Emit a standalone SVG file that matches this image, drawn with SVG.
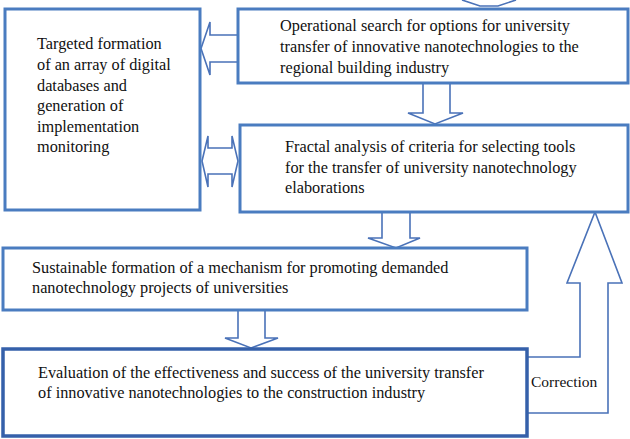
<svg xmlns="http://www.w3.org/2000/svg" width="630" height="439" viewBox="0 0 630 439">
<style>
.box{fill:#fff;stroke:#4a7cc0;stroke-width:3}
.box4{fill:#fff;stroke:#3560aa;stroke-width:3.5}
.arr{fill:#fff;stroke:#4a72b8;stroke-width:1.6;stroke-linejoin:miter}
</style>
<rect width="630" height="439" fill="#fff"/>
<g id="connectors">
<polyline class="arr" points="462,0 480,6 498,6 516,0" fill="none"/>
<polyline class="arr" points="238,35 210,35 210,22 201,48.5 210,75 210,62 238,62"/>
<polygon class="arr" points="208,148 232,148 232,136 238,161 232,187 232,174 208,174 208,187 202,161 208,136"/>
<polyline class="arr" points="423,83 423,113 408,113 435,124 463,113 450,113 450,83"/>
<polyline class="arr" points="382,212 382,238 368,238 396,248 420,238 410,238 410,212"/>
<polyline class="arr" points="238,310 238,338 225,338 251,348 278,338 265,338 265,310"/>
<polyline class="arr" points="527,357 580,357 580,283 567,283 595,212 622,283 608,283 608,413 527,413"/>
</g>
<g font-family="Liberation Serif, serif" font-size="16.3" fill="#111">
<g id="node-left">
<rect class="box" x="5" y="9" width="195" height="201"/>
<text x="37" y="49">Targeted formation</text>
<text x="37" y="70">of an array of digital</text>
<text x="37" y="90.5">databases and</text>
<text x="37" y="111">generation of</text>
<text x="37" y="131.5">implementation</text>
<text x="37" y="152">monitoring</text>
</g>
<g id="node-search">
<rect class="box" x="238" y="9" width="390" height="74"/>
<text x="280" y="31">Operational search for options for university</text>
<text x="280" y="52">transfer of innovative nanotechnologies to the</text>
<text x="280" y="73">regional building industry</text>
</g>
<g id="node-fractal">
<rect class="box" x="240" y="125" width="388" height="87"/>
<text x="285" y="152">Fractal analysis of criteria for selecting tools</text>
<text x="285" y="173">for the transfer of university nanotechnology</text>
<text x="285" y="193">elaborations</text>
</g>
<g id="node-sustainable">
<rect class="box" x="3" y="248" width="524" height="62"/>
<text x="32" y="273">Sustainable formation of a mechanism for promoting demanded</text>
<text x="32" y="293">nanotechnology projects of universities</text>
</g>
<g id="node-evaluation">
<rect class="box4" x="3" y="349" width="524" height="87"/>
<text x="38" y="378">Evaluation of the effectiveness and success of the university transfer</text>
<text x="38" y="398">of innovative nanotechnologies to the construction industry</text>
</g>
<g id="label-correction">
<text x="531" y="387" font-size="15.5">Correction</text>
</g>
</g>
</svg>
